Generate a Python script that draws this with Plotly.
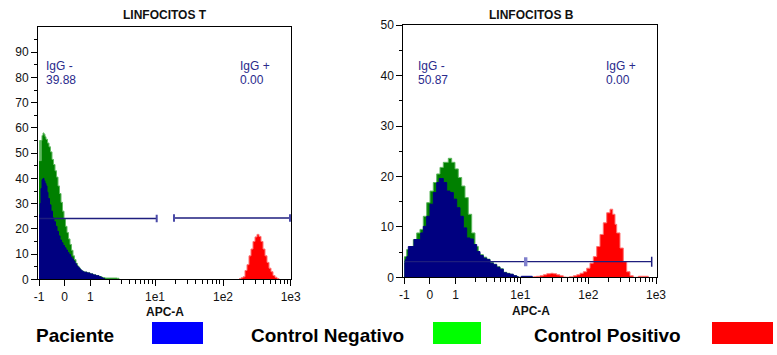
import math
import plotly.graph_objects as go

W, H = 777, 355

# ---------------- data (x = display channel, y = events) ----------------
# LINFOCITOS T
lt_neg_ch = [0, 0.7, 1.5, 2.2, 3, 4, 5, 6, 7, 8.5, 10, 11.5, 13, 14.5, 16, 17.5, 19, 20.5, 22, 23.5,
             25, 26.5, 28, 29.5, 31, 32.5, 34, 35.5, 37, 38.5, 40, 41.5, 43, 45, 48, 51, 54, 57, 60,
             63, 66, 72, 78, 80]
lt_neg_ct = [47, 55, 47, 55, 57, 58, 57.5, 56.5, 55.5, 54, 52.5, 50.5, 47.5, 45.5, 43, 40.5, 37, 34,
             30.5, 27, 24, 21, 18.5, 16, 13.8, 11.5, 9.3, 7.8, 6.3, 5.2, 4.4, 3.7, 3.2, 2.9, 2.6, 2.2,
             1.8, 1.5, 1.1, 0.7, 0.5, 0.5, 0.4, 0]
lt_pac_ch = [0, 1, 2, 3, 4, 5, 6, 7, 8, 9, 10.5, 12, 13.5, 15, 16.5, 18, 19.5, 21, 22.5, 24, 25.5,
             27, 28.5, 30, 31.5, 33, 34.5, 36, 37.5, 39, 40.5, 42, 43.5, 45, 48, 51, 54, 57, 60, 62,
             64, 66]
lt_pac_ct = [25.5, 30, 36, 39.5, 40, 39, 38, 37, 34.5, 32, 29.5, 27, 24.3, 22.8, 21, 19, 17.2, 15.6,
             14.5, 13.4, 12.5, 11.6, 10.6, 9.8, 8.8, 8.0, 7.2, 6.2, 5.3, 4.6, 4.0, 3.4, 3.0, 2.8, 2.5,
             2.1, 1.7, 1.4, 1.0, 0.6, 0.2, 0]
lt_pos_ch = [200, 202, 204, 206, 208, 210, 212, 214, 216, 218, 220, 222, 224, 226, 228, 230, 232,
             234, 236, 238, 240]
lt_pos_ct = [0.2, 0.6, 1.0, 3.5, 5.8, 9.3, 12, 15, 16.8, 17.8, 17, 15, 12, 9.3, 6.7, 4.4, 3.0, 1.5,
             0.8, 0.3, 0]
lt_gates = [(0, 117.7, 24.1), (135, 251, 24.3)]
lt_stats = ["39.88", "0.00"]

# LINFOCITOS B
lb_neg_ch = [0, 2.4, 5.7, 9, 12.4, 15.7, 19, 22.4, 25.7, 29, 32.4, 35.7, 39, 44, 47.4, 50.7, 54,
             57.4, 60.7, 64, 67.4, 70.7, 74, 75.7, 79, 82.4, 85.7, 89, 92.4, 95.7, 99, 102.4, 105.7,
             109, 112.4, 114]
lb_neg_ct = [4.1, 5.5, 6.1, 7.5, 8.8, 9.5, 12.1, 14.8, 17.1, 18.8, 20.5, 21.8, 22.8, 23.6, 22.8,
             21.5, 19.8, 18.1, 15.8, 12.5, 8.8, 6.1, 4.8, 4.5, 4.0, 3.6, 3.0, 2.6, 2.1, 1.7, 1.0, 0.8,
             0.6, 0.35, 0.15, 0]
lb_pac_ch = [0, 1, 2.4, 4, 9.7, 16.4, 19, 22.4, 25.7, 29, 32.4, 35, 37.4, 39, 42.4, 45.7, 49, 52.4,
             55.7, 59, 62.4, 65.7, 69, 72.4, 75.7, 79, 82.4, 85.7, 89, 92.4, 95.7, 99, 102.4, 105.7,
             109, 112.4, 114, 117, 128]
lb_pac_ct = [2.8, 3.5, 4.1, 6.1, 7.5, 8.8, 10.1, 12.1, 14.5, 16.8, 18.8, 19.6, 19.6, 18.8, 17.1, 16.8,
             15.5, 13.8, 12.1, 9.8, 7.8, 7.6, 6.5, 5.1, 4.3, 3.8, 3.5, 2.8, 2.5, 2.0, 1.6, 0.9, 0.7,
             0.6, 0.3, 0.1, 0, 0.2, 0]
lb_pos_ch = [129, 132, 135.7, 139, 142.4, 146.4, 149, 152.4, 155.7, 159, 162, 165, 169, 172.4, 175.7,
             179, 182.4, 185.7, 189, 192.4, 195.7, 199, 202.4, 205.7, 208.4, 210.7, 212.4, 215.7, 219,
             222.4, 225.7, 229, 234, 242, 244]
lb_pos_ct = [0.1, 0.2, 0.3, 0.5, 0.7, 0.8, 0.7, 0.5, 0.3, 0.05, 0, 0.1, 0.3, 0.5, 0.8, 1.1, 1.8, 2.8,
             4.1, 6.1, 8.5, 10.8, 12.8, 13.5, 12.5, 10.5, 8.8, 5.8, 3.1, 1.1, 0.3, 0, 0.2, 0.2, 0]
lb_gates = [(0, 247.4, 3.1)]
lb_handle = 121.4
lb_stats = ["50.87", "0.00"]

# axis (biexponential display): tick labels and their channel positions
x_tick_text = ["-1", "0", "1", "1e1", "1e2", "1e3"]
x_tick_ch = [0, 25.5, 51.3, 116, 184, 251.7]

series_names = ["Paciente", "Control Negativo", "Control Positivo"]
legend_colors = ["#0000FF", "#00FF00", "#FF0000"]

# ---------------- helpers ----------------
def pxx(x):
    return x / W

def pxy(y):
    return 1 - y / H

FONT = "Liberation Sans, Arial, sans-serif"
NAVY = "#000080"
DKGREEN = "#008000"
GATE = "#1e1e7e"
TXT = "#2a2a8c"

# minor x ticks: log positions within each decade
minor_x = []
for (a, b) in [(2, 3), (3, 4), (4, 5)]:
    for k in range(2, 10):
        minor_x.append(x_tick_ch[a] + (x_tick_ch[b] - x_tick_ch[a]) * math.log10(k))

fig = go.Figure()

def add_hist(ch, ct, fillc, linec, xa, ya):
    fig.add_trace(go.Scatter(x=ch, y=ct, mode="lines", line=dict(shape="hv", color=linec, width=1),
                             fill="tozeroy", fillcolor=fillc, xaxis=xa, yaxis=ya,
                             hoverinfo="skip", showlegend=False))

add_hist(lt_neg_ch, lt_neg_ct, DKGREEN, "#5fb85f", "x", "y")
add_hist(lt_pac_ch, lt_pac_ct, NAVY, NAVY, "x", "y")
add_hist(lt_pos_ch, lt_pos_ct, "#FF0000", "#ff7070", "x", "y")
add_hist(lb_neg_ch, lb_neg_ct, DKGREEN, "#5fb85f", "x2", "y2")
add_hist(lb_pac_ch, lb_pac_ct, NAVY, NAVY, "x2", "y2")
add_hist(lb_pos_ch, lb_pos_ct, "#FF0000", "#ff7070", "x2", "y2")

shapes = []
# gates
for (x0, x1, yv) in lt_gates:
    shapes.append(dict(type="line", xref="x", yref="y", x0=x0, x1=x1, y0=yv, y1=yv,
                       line=dict(color=GATE, width=1.3), layer="above"))
    for xe in (x0, x1):
        if xe > 0:
            shapes.append(dict(type="line", xref="x", yref="y", x0=xe, x1=xe, y0=yv - 1.5, y1=yv + 1.5,
                               line=dict(color="#4a4aa8", width=2), layer="above"))
for (x0, x1, yv) in lb_gates:
    shapes.append(dict(type="line", xref="x2", yref="y2", x0=x0, x1=x1, y0=yv, y1=yv,
                       line=dict(color=GATE, width=1.3), layer="above"))
    shapes.append(dict(type="line", xref="x2", yref="y2", x0=x1, x1=x1, y0=yv - 1, y1=yv + 1,
                       line=dict(color=GATE, width=1.5), layer="above"))
shapes.append(dict(type="rect", xref="x2", yref="y2", x0=lb_handle - 1.7, x1=lb_handle + 1.7,
                   y0=lb_gates[0][2] - 0.9, y1=lb_gates[0][2] + 0.9,
                   fillcolor="#8080cc", line=dict(width=0), layer="above"))

# legend squares
sq = [(152, 203), (433, 481), (712, 773)]
for (x0, x1), c in zip(sq, legend_colors):
    shapes.append(dict(type="rect", xref="paper", yref="paper", x0=pxx(x0), x1=pxx(x1),
                       y0=pxy(344), y1=pxy(322), fillcolor=c, line=dict(width=0)))

ann = []
def text(x, y, s, size=12, bold=False, color="#000000", xanchor="center"):
    ann.append(dict(x=pxx(x), y=pxy(y), xref="paper", yref="paper", text=(f"<b>{s}</b>" if bold else s),
                    showarrow=False, xanchor=xanchor, yanchor="middle",
                    font=dict(family=FONT, size=size, color=color)))

text(164.5, 15, "LINFOCITOS T", 12, True, "#111111")
text(531, 15.5, "LINFOCITOS B", 12, True, "#111111")
text(165, 312, "APC-A", 12, True, "#111111")
text(531, 310.5, "APC-A", 12, True, "#111111")
text(43.5, 66.5, "IgG -", 12, False, TXT, "left")
text(43.5, 80, lt_stats[0], 12, False, TXT, "left")
text(237.5, 66.5, "IgG +", 12, False, TXT, "left")
text(237.5, 80, lt_stats[1], 12, False, TXT, "left")
text(415.5, 66, "IgG -", 12, False, TXT, "left")
text(415.5, 80, lb_stats[0], 12, False, TXT, "left")
text(603.5, 66, "IgG +", 12, False, TXT, "left")
text(603.5, 80, lb_stats[1], 12, False, TXT, "left")
text(34, 335, series_names[0], 19, True, "#000000", "left")
text(249, 335, series_names[1], 19, True, "#000000", "left")
text(532, 335, series_names[2], 19, True, "#000000", "left")

def xaxis_cfg(domain, rng):
    return dict(domain=domain, range=rng, tickmode="array", tickvals=x_tick_ch, ticktext=x_tick_text,
                ticks="outside", ticklen=6, tickcolor="#000000", showline=True, linecolor="#000000",
                linewidth=1, mirror=True, showgrid=False, zeroline=False, automargin=False,
                tickfont=dict(family=FONT, size=12, color="#111111"),
                minor=dict(tickmode="array", tickvals=minor_x, ticks="outside", ticklen=4,
                           tickcolor="#000000", showgrid=False))

def yaxis_cfg(domain, top, anchor):
    return dict(domain=domain, range=[0, top], anchor=anchor, tickmode="array",
                tickvals=list(range(0, top if top == 100 else top + 1, 10)),
                ticks="outside", ticklen=6, tickcolor="#000000", showline=True, linecolor="#000000",
                linewidth=1, mirror=True, showgrid=False, zeroline=False, automargin=False,
                tickfont=dict(family=FONT, size=12, color="#111111"),
                minor=dict(tickmode="array", tickvals=list(range(5, top, 10)), ticks="outside",
                           ticklen=3, tickcolor="#000000", showgrid=False))

fig.update_layout(
    width=W, height=H, margin=dict(l=0, r=0, t=0, b=0, autoexpand=False),
    paper_bgcolor="#FFFFFF", plot_bgcolor="#FFFFFF", showlegend=False,
    xaxis=dict(xaxis_cfg([38 / W, 291 / W], [-1, 252]), anchor="y"),
    yaxis=yaxis_cfg([1 - 279.3 / H, 1 - 27 / H], 100, "x"),
    xaxis2=dict(xaxis_cfg([403.3 / W, 657.3 / W], [-1, 253]), anchor="y2"),
    yaxis2=yaxis_cfg([1 - 277.3 / H, 1 - 25.2 / H], 50, "x2"),
    shapes=shapes, annotations=ann,
)

fig.write_html("out.html", config={"displayModeBar": False},
               post_script="document.body.style.margin='0';document.body.style.overflow='hidden';")
